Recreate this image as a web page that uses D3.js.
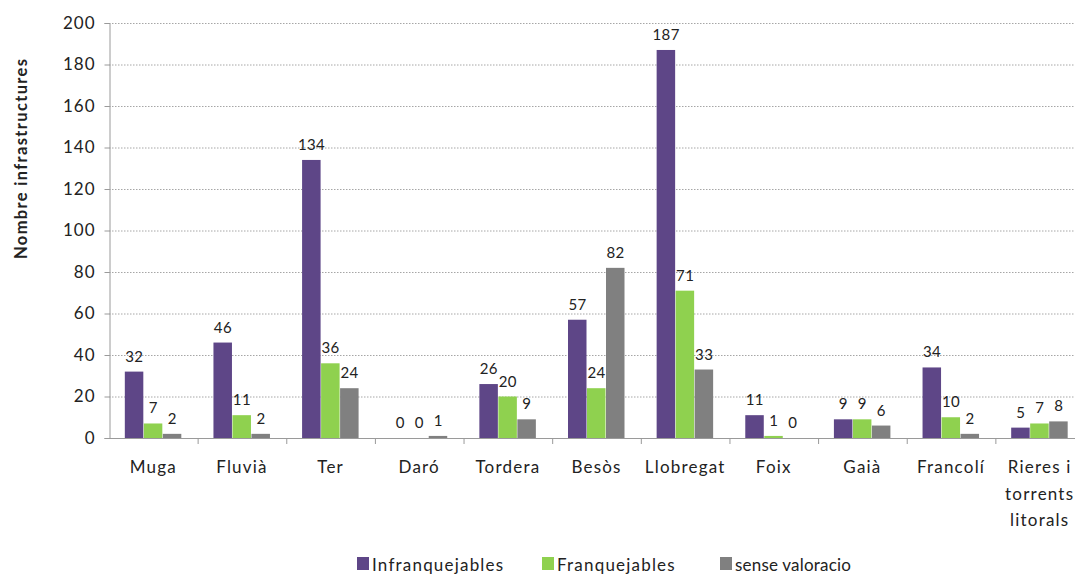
<!DOCTYPE html>
<html>
<head>
<meta charset="utf-8">
<script src="https://cdn.jsdelivr.net/npm/d3@7"></script>
<style>
  html, body { margin: 0; padding: 0; background: #fff; }
  svg { display: block; font-family: Lato, "Open Sans", sans-serif; }
</style>
</head>
<body>
<svg id="chart" width="1075" height="574"></svg>
<script>
// Infrastructures per river basin
const categories = ["Muga", "Fluvià", "Ter", "Daró", "Tordera", "Besòs", "Llobregat", "Foix", "Gaià", "Francolí", "Rieres i torrents litorals"];
const categoryLines = [["Muga"], ["Fluvià"], ["Ter"], ["Daró"], ["Tordera"], ["Besòs"], ["Llobregat"], ["Foix"], ["Gaià"], ["Francolí"], ["Rieres i", "torrents", "litorals"]];
const seriesNames = ["Infranquejables", "Franquejables", "sense valoracio"];
const infranquejables = [32, 46, 134, 0, 26, 57, 187, 11, 9, 34, 5];
const franquejables = [7, 11, 36, 0, 20, 24, 71, 1, 9, 10, 7];
const senseValoracio = [2, 2, 24, 1, 9, 82, 33, 0, 6, 2, 8];
const yTicks = [0, 20, 40, 60, 80, 100, 120, 140, 160, 180, 200];
const colors = ["#5e4687", "#8fd14f", "#808080"];

const seriesValues = [infranquejables, franquejables, senseValoracio];

const svg = d3.select("#chart");
const margin = { left: 109, top: 23, bottom: 438, right: 1084 };

const x = d3.scaleBand().domain(categories).range([margin.left, margin.right]).paddingInner(0).paddingOuter(0);
const y = d3.scaleLinear().domain([0, 200]).range([margin.bottom, margin.top]);

const groupWidth = 57;
const xs = d3.scaleBand().domain(seriesNames).range([0, groupWidth]).padding(0);
const groupOffset = (x.bandwidth() - groupWidth) / 2;

// gridlines
svg.append("g")
  .selectAll("line")
  .data(yTicks.filter(d => d > 0))
  .join("line")
  .attr("x1", margin.left).attr("x2", margin.right)
  .attr("y1", d => y(d) + 0.5).attr("y2", d => y(d) + 0.5)
  .attr("stroke", "#a6a6a6")
  .attr("stroke-width", 1)
  .attr("stroke-dasharray", "1.5,1.5");

// y axis
const yAxis = d3.axisLeft(y).tickValues(yTicks).tickSize(5).tickPadding(9);
const gy = svg.append("g").attr("transform", `translate(${margin.left + 0.5},0)`).call(yAxis);
gy.select(".domain").attr("stroke", "#9a9a9a");
gy.selectAll(".tick line").attr("stroke", "#9a9a9a");
gy.selectAll(".tick text")
  .attr("font-size", 17)
  .attr("letter-spacing", 1)
  .attr("fill", "#222")
  .attr("font-family", "Lato, sans-serif");

// x axis baseline and category separators
svg.append("line")
  .attr("x1", margin.left).attr("x2", margin.right)
  .attr("y1", margin.bottom + 0.5).attr("y2", margin.bottom + 0.5)
  .attr("stroke", "#9a9a9a");
svg.append("g")
  .selectAll("line")
  .data(categories)
  .join("line")
  .attr("x1", d => x(d) + x.bandwidth() + 0.5)
  .attr("x2", d => x(d) + x.bandwidth() + 0.5)
  .attr("y1", margin.bottom)
  .attr("y2", margin.bottom + 6)
  .attr("stroke", "#9a9a9a");

// category labels
const catG = svg.append("g");
categories.forEach((c, i) => {
  const t = catG.append("text")
    .attr("x", x(c) + x.bandwidth() / 2)
    .attr("y", 473)
    .attr("text-anchor", "middle")
    .attr("font-size", 17)
    .attr("letter-spacing", 1.2)
    .attr("fill", "#222");
  categoryLines[i].forEach((line, j) => {
    t.append("tspan")
      .attr("x", x(c) + x.bandwidth() / 2)
      .attr("dy", j === 0 ? 0 : 26.5)
      .text(line);
  });
});

// bars
const data = [];
categories.forEach((c, i) => {
  seriesNames.forEach((s, k) => {
    data.push({ cat: c, series: s, k, value: seriesValues[k][i] });
  });
});

svg.append("g")
  .selectAll("rect")
  .data(data)
  .join("rect")
  .attr("x", d => x(d.cat) + groupOffset + xs(d.series))
  .attr("y", d => y(d.value))
  .attr("width", xs.bandwidth() - 0.5)
  .attr("height", d => y(0) - y(d.value))
  .attr("fill", d => colors[d.k]);

// value labels
svg.append("g")
  .selectAll("text")
  .data(data)
  .join("text")
  .attr("x", d => x(d.cat) + groupOffset + xs(d.series) + xs.bandwidth() / 2)
  .attr("y", d => y(d.value) - 10)
  .attr("text-anchor", "middle")
  .attr("font-size", 15)
  .attr("letter-spacing", 0.4)
  .attr("fill", "#222")
  .text(d => d.value);

// y axis title
svg.append("text")
  .attr("transform", "translate(27,159) rotate(-90)")
  .attr("text-anchor", "middle")
  .attr("font-size", 16.5)
  .attr("font-weight", "bold")
  .attr("fill", "#222")
  .attr("textLength", 200)
  .attr("lengthAdjust", "spacing")
  .text("Nombre infrastructures");

// legend
const legendItems = [
  { name: seriesNames[0], color: colors[0], x: 357, spacing: 1.2 },
  { name: seriesNames[1], color: colors[1], x: 542, spacing: 1.2 },
  { name: seriesNames[2], color: colors[2], x: 720, spacing: 0.2 }
];
const lg = svg.append("g");
lg.selectAll("rect")
  .data(legendItems)
  .join("rect")
  .attr("x", d => d.x)
  .attr("y", 557)
  .attr("width", 12)
  .attr("height", 13)
  .attr("fill", d => d.color);
lg.selectAll("text")
  .data(legendItems)
  .join("text")
  .attr("x", d => d.x + 15)
  .attr("y", 571)
  .attr("font-size", 17)
  .attr("letter-spacing", d => d.spacing)
  .attr("fill", "#222")
  .text(d => d.name);
</script>
</body>
</html>
